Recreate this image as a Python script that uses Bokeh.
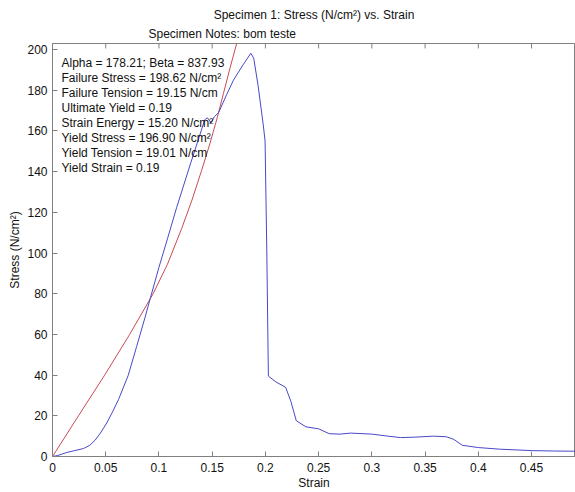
from bokeh.plotting import figure
from bokeh.models import Range1d, FixedTicker, Label, Title
from bokeh.embed import file_html
from bokeh.resources import INLINE

# Measured curve (blue)
strain_meas = [0, 0.005, 0.0135, 0.02, 0.029, 0.035, 0.04, 0.045, 0.051, 0.056,
               0.062, 0.071, 0.079, 0.087, 0.092, 0.1, 0.108, 0.1167, 0.13, 0.143,
               0.1455, 0.149, 0.152, 0.156, 0.1637, 0.17, 0.179, 0.1863, 0.189, 0.193,
               0.198, 0.1997, 0.2013, 0.2028, 0.21, 0.219, 0.224, 0.229, 0.238, 0.25,
               0.26, 0.27, 0.28, 0.3, 0.315, 0.327, 0.34, 0.358, 0.37, 0.377,
               0.385, 0.4, 0.42, 0.45, 0.47, 0.491]
stress_meas = [0, 0.5, 2, 2.8, 3.9, 5.5, 8, 11.5, 16.5, 21.5,
               28, 39.7, 54, 68.5, 78, 93, 107, 122.5, 144.5, 165.5,
               166.5, 164, 167, 169, 178, 185, 192.5, 198.2, 195.8, 182.8,
               163, 155, 101, 39.5, 36.6, 34, 27, 17.6, 14.6, 13.6,
               11.2, 11, 11.5, 11, 10, 9.3, 9.5, 10, 9.7, 8.4,
               5.5, 4.4, 3.6, 2.9, 2.7, 2.6]

# Fitted curve (red)
strain_fit = [0, 0.0244, 0.049, 0.0725, 0.0945, 0.108, 0.1213, 0.131, 0.14, 0.148,
              0.155, 0.1606, 0.1668, 0.173, 0.178]
stress_fit = [0, 20, 40, 60, 80, 94.5, 112, 126, 140.5, 154,
              167, 178.5, 191, 203, 213]

x_ticks = [0, 0.05, 0.1, 0.15, 0.2, 0.25, 0.3, 0.35, 0.4, 0.45]
x_tick_labels = ["0", "0.05", "0.1", "0.15", "0.2", "0.25", "0.3", "0.35", "0.4", "0.45"]
y_ticks = [0, 20, 40, 60, 80, 100, 120, 140, 160, 180, 200]

title_line1 = "Specimen 1: Stress (N/cm²) vs. Strain"
title_line2 = "Specimen Notes: bom teste"
info_lines = [
    "Alpha = 178.21;  Beta = 837.93",
    "Failure Stress = 198.62 N/cm²",
    "Failure Tension = 19.15 N/cm",
    "Ultimate Yield = 0.19",
    "Strain Energy = 15.20 N/cm²",
    "Yield Stress = 196.90 N/cm²",
    "Yield Tension = 19.01 N/cm",
    "Yield Strain = 0.19",
]

FONT = "Liberation Sans"
AXC = "#808080"
TXT = "#111111"
X_MAX = 0.4913
Y_MAX = 203

p = figure(width=575, height=492, output_backend="svg", toolbar_location=None,
           x_range=Range1d(0, X_MAX), y_range=Range1d(0, Y_MAX),
           min_border_left=52, min_border_right=0, min_border_top=43,
           min_border_bottom=34)
p.title.visible = False
p.grid.visible = False
p.outline_line_color = AXC
p.background_fill_color = "white"
p.border_fill_color = "white"

p.line(strain_fit, stress_fit, line_color="#c84a55", line_width=1)
p.line(strain_meas, stress_meas, line_color="#4848c8", line_width=1)

# inward tick marks on the top edge of the box
tick_len = 5 / 2.044
p.segment(x0=x_ticks, y0=[Y_MAX] * len(x_ticks), x1=x_ticks,
          y1=[Y_MAX - tick_len] * len(x_ticks), line_color=AXC, line_width=1)

for ax in (p.xaxis[0], p.yaxis[0]):
    ax.major_tick_in = 5
    ax.major_tick_out = 0
    ax.minor_tick_line_color = None
    ax.axis_line_color = AXC
    ax.major_tick_line_color = AXC
    ax.major_label_text_font = FONT
    ax.major_label_text_font_size = "12px"
    ax.major_label_text_color = TXT
    ax.axis_label_text_font = FONT
    ax.axis_label_text_font_size = "12px"
    ax.axis_label_text_font_style = "normal"
    ax.axis_label_text_color = TXT

p.xaxis.ticker = FixedTicker(ticks=x_ticks)
p.xaxis.major_label_overrides = dict(zip(x_ticks, x_tick_labels))
p.xaxis.axis_label = "Strain"
p.xaxis.major_label_standoff = 6
p.xaxis.axis_label_standoff = 1

p.yaxis.ticker = FixedTicker(ticks=y_ticks)
p.yaxis.axis_label = "Stress (N/cm²)"
p.yaxis.major_label_standoff = 5
p.yaxis.axis_label_standoff = 2

t2 = Title(text=title_line2, align="left", offset=96, standoff=6, text_font=FONT,
           text_font_size="12px", text_font_style="normal", text_color=TXT)
t1 = Title(text=title_line1, align="center", offset=3, standoff=0, text_font=FONT,
           text_font_size="12px", text_font_style="normal", text_color=TXT)
p.add_layout(t2, "above")
p.add_layout(t1, "above")

for i, line in enumerate(info_lines):
    p.add_layout(Label(x=9, y=394 - i * 15.1, x_units="screen", y_units="screen", text=line,
                       text_align="left", text_baseline="middle", text_font=FONT,
                       text_font_size="12px", text_color=TXT))

open("out.html", "w").write(file_html(p, INLINE))
